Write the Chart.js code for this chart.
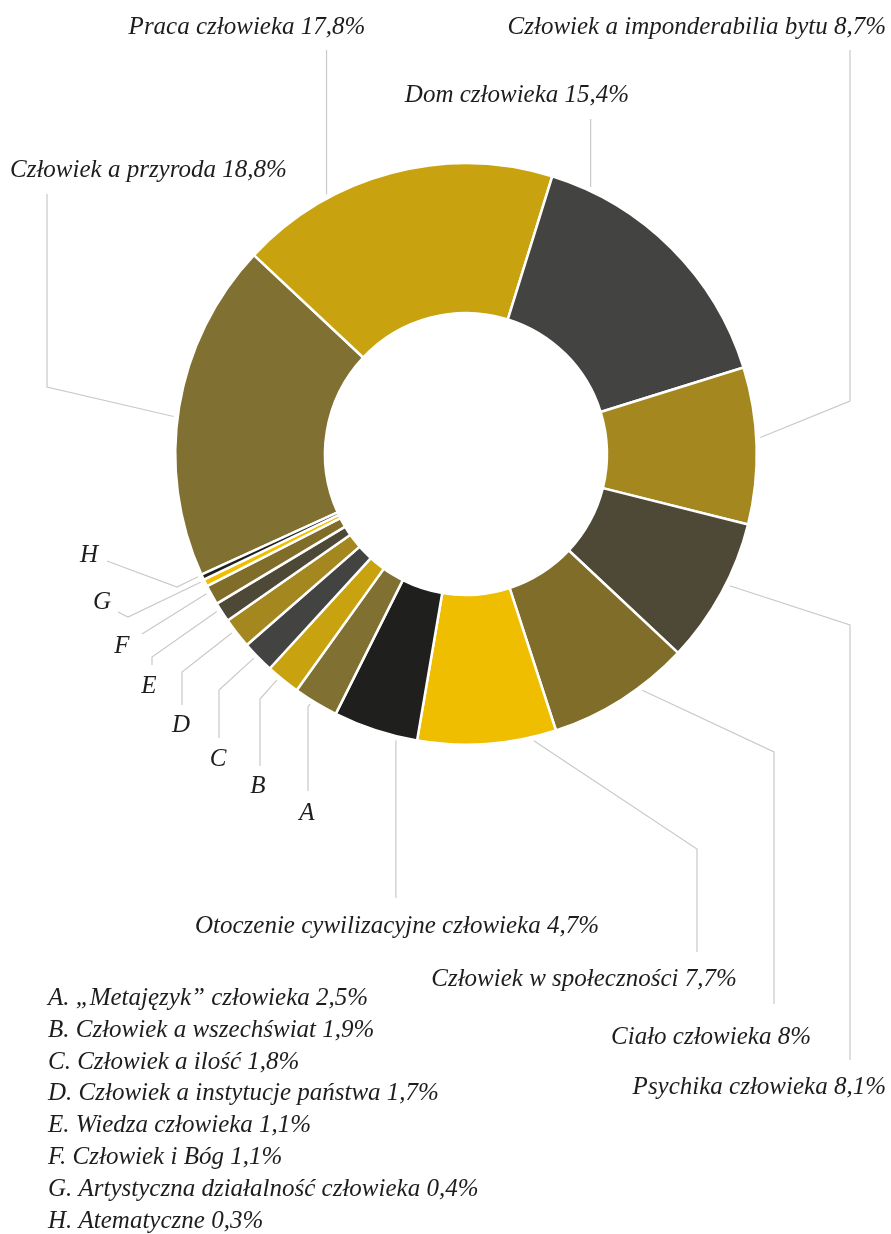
<!DOCTYPE html>
<html>
<head>
<meta charset="utf-8">
<script src="https://cdn.jsdelivr.net/npm/chart.js@4"></script>
<style>
  html, body { margin: 0; padding: 0; background: #fff; }
  #wrap { width: 891px; height: 1234px; }
</style>
</head>
<body>
<div id="wrap"><canvas id="donut" width="891" height="1234"></canvas></div>
<script>
// values (percent)
const categories = [
    'Człowiek a przyroda', 'Praca człowieka', 'Dom człowieka', 'Człowiek a imponderabilia bytu',
    'Psychika człowieka', 'Ciało człowieka', 'Człowiek w społeczności', 'Otoczenie cywilizacyjne człowieka',
    '„Metajęzyk” człowieka', 'Człowiek a wszechświat', 'Człowiek a ilość', 'Człowiek a instytucje państwa',
    'Wiedza człowieka', 'Człowiek i Bóg', 'Artystyczna działalność człowieka', 'Atematyczne'
];
const shares = [18.8, 17.8, 15.4, 8.7, 8.1, 8, 7.7, 4.7, 2.5, 1.9, 1.8, 1.7, 1.1, 1.1, 0.4, 0.3];
const letters = [null, null, null, null, null, null, null, null, 'A', 'B', 'C', 'D', 'E', 'F', 'G', 'H'];

// colours repeat every 8 slices
const palette = ['#807031', '#c9a30f', '#434341', '#a4871f', '#4e4936', '#7f6d29', '#f0be00', '#1f1f1d'];

// where each leader starts inside its slice (0..1), the bends after it, and the label
// a null x means "keep the previous x" (vertical line)
const leaders = [
    { frac: 0.47, path: [[47, 387], [47, 194]], text: [10, 177, 'left'] },
    { frac: 0.29, path: [[null, 50]], text: [247, 34, 'center'] },
    { frac: 0.14, path: [[null, 119]], text: [517, 102, 'center'] },
    { frac: 0.45, path: [[850, 401], [850, 50]], text: [886, 34, 'right'] },
    { frac: 0.43, path: [[850, 625], [850, 1060]], text: [886, 1094, 'right'] },
    { frac: 0.35, path: [[774, 752], [774, 1004]], text: [711, 1044, 'center'] },
    { frac: 0.17, path: [[697, 849], [697, 952]], text: [584, 986, 'center'] },
    { frac: 0.24, path: [[null, 898]], text: [397, 933, 'center'] },
    { frac: 0.59, path: [[308, 707], [308, 791]], text: [307, 820, 'center'] },
    { frac: 0.63, path: [[260, 699], [260, 766]], text: [258, 793, 'center'] },
    { frac: 0.56, path: [[219, 690], [219, 738]], text: [218, 766, 'center'] },
    { frac: 0.6, path: [[182, 672], [182, 705]], text: [181, 732, 'center'] },
    { frac: 0.67, path: [[152, 657], [152, 665]], text: [149, 693, 'center'] },
    { frac: 0.68, path: [[142, 634]], text: [122, 653, 'center'] },
    { frac: 0.85, path: [[128, 617], [118, 612]], text: [102, 609, 'center'] },
    { frac: 0.9, path: [[177, 587], [107, 561]], text: [89, 562, 'center'] }
];

const FONT = 'italic 25px "Liberation Serif", "DejaVu Serif", serif';
const TEXT_COLOR = '#1f1c1d';

function pct(v) {
    return String(v).replace('.', ',') + '%';
}

const leaderPlugin = {
    id: 'leaders',
    afterDatasetsDraw(chart) {
        const ctx = chart.ctx;
        const arcs = chart.getDatasetMeta(0).data;
        ctx.save();
        ctx.strokeStyle = '#c9c9c9';
        ctx.lineWidth = 1.2;
        ctx.font = FONT;
        ctx.fillStyle = TEXT_COLOR;
        ctx.textBaseline = 'alphabetic';

        leaders.forEach((l, i) => {
            const arc = arcs[i];
            const p = arc.getProps(['x', 'y', 'startAngle', 'endAngle', 'outerRadius'], true);
            const a = p.startAngle + (p.endAngle - p.startAngle) * l.frac;
            const r = p.outerRadius + 4;
            let px = p.x + Math.cos(a) * r;
            let py = p.y + Math.sin(a) * r;
            ctx.beginPath();
            ctx.moveTo(px, py);
            l.path.forEach(pt => {
                px = pt[0] == null ? px : pt[0];
                py = pt[1];
                ctx.lineTo(px, py);
            });
            ctx.stroke();

            const label = letters[i] ? letters[i] : categories[i] + ' ' + pct(shares[i]);
            ctx.textAlign = l.text[2];
            ctx.fillText(label, l.text[0], l.text[1]);
        });

        // key for the lettered slices
        ctx.textAlign = 'left';
        let row = 0;
        letters.forEach((letter, i) => {
            if (!letter) return;
            ctx.fillText(letter + '. ' + categories[i] + ' ' + pct(shares[i]), 48, 1005 + row * 31.8);
            row++;
        });
        ctx.restore();
    }
};

new Chart(document.getElementById('donut').getContext('2d'), {
    type: 'doughnut',
    data: {
        labels: categories,
        datasets: [{
            data: shares,
            backgroundColor: shares.map((v, i) => palette[i % palette.length]),
            borderColor: '#ffffff',
            borderWidth: 2.5
        }]
    },
    options: {
        responsive: false,
        devicePixelRatio: 1,
        animation: false,
        events: [],
        rotation: -114.5,
        cutout: '48.5%',
        layout: { padding: { left: 174, right: 133, top: 162, bottom: 488 } },
        plugins: {
            legend: { display: false },
            tooltip: { enabled: false }
        }
    },
    plugins: [leaderPlugin]
});
</script>
</body>
</html>
